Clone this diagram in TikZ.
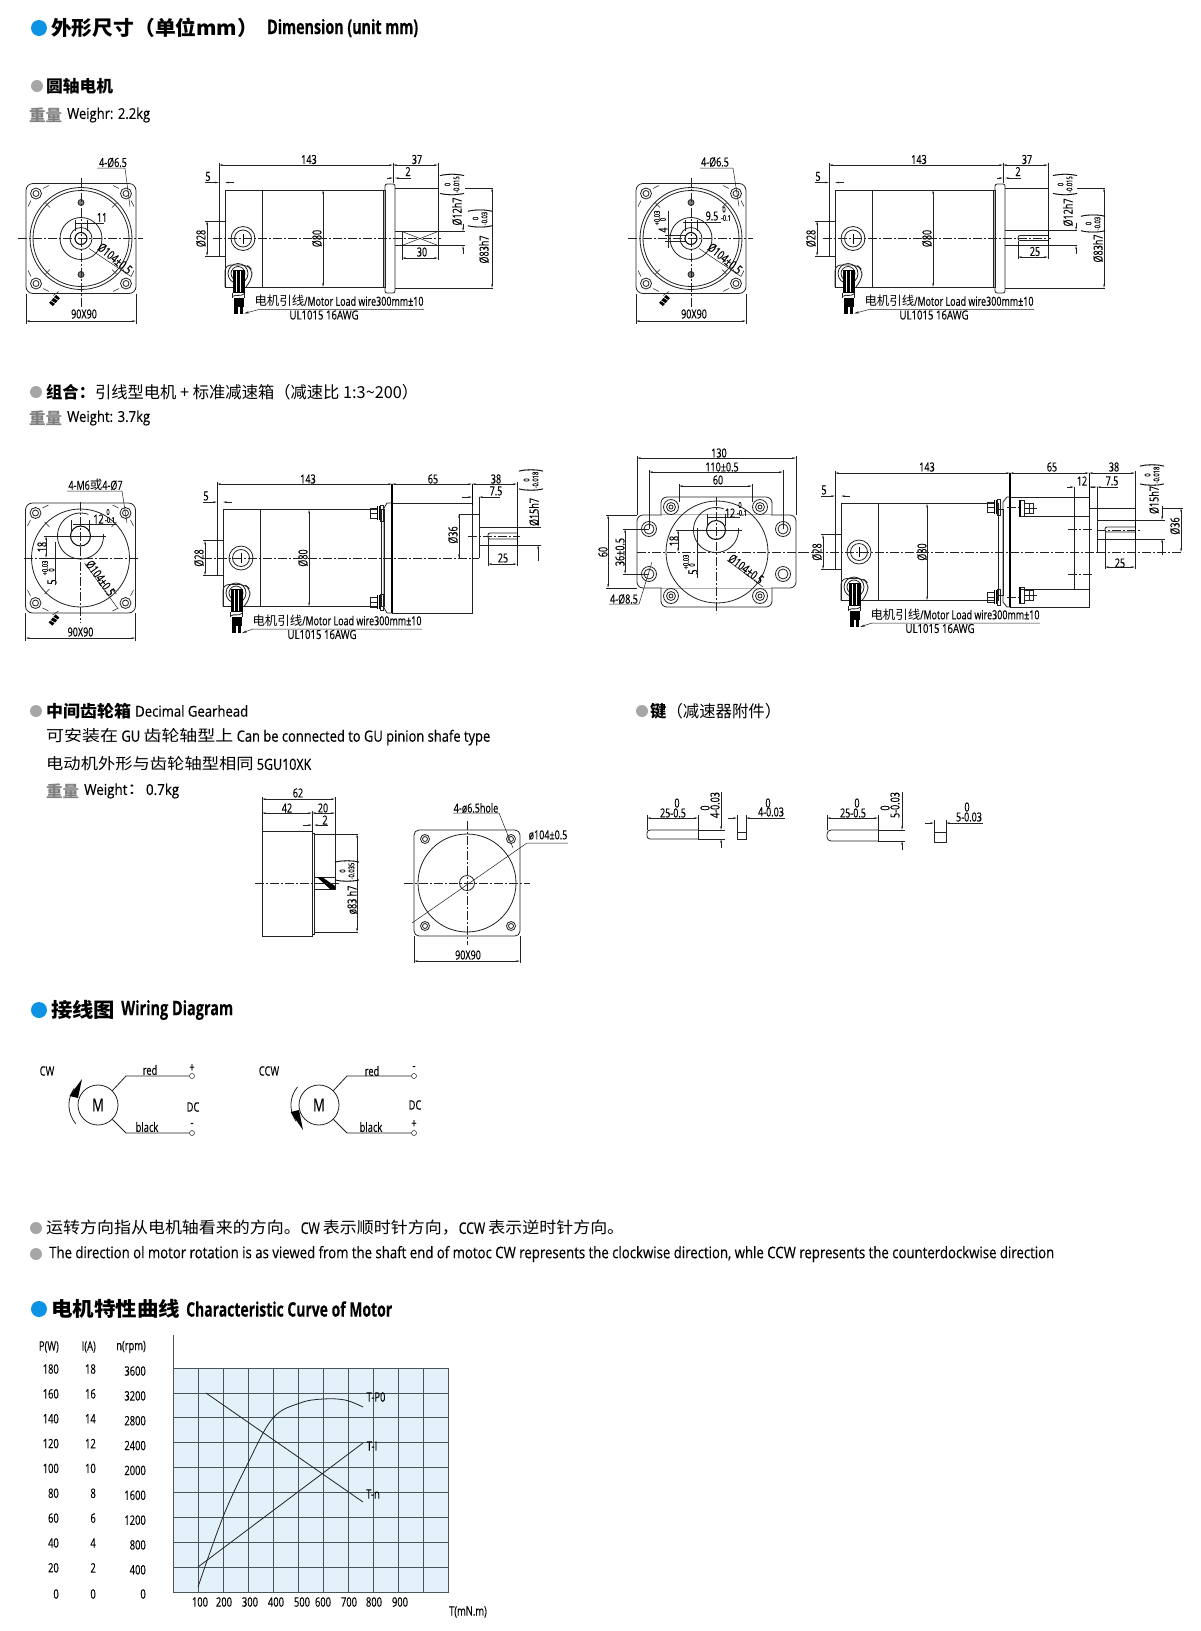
\documentclass[tikz,border=0pt]{standalone}
\usepackage{fontspec}
\usepackage{graphicx}
\usetikzlibrary{arrows.meta}
\setmainfont{Open Sans}[FakeStretch=0.72,FakeBold=0.25]
\newfontfamily\cjk{Noto Sans CJK SC}
\definecolor{inkc}{HTML}{222222}
\definecolor{bluedot}{HTML}{0C93E3}
\definecolor{greydot}{HTML}{A6A6A6}
\definecolor{chartbg}{HTML}{E2F1FA}
\definecolor{gridc}{HTML}{4A5358}
\newcounter{lbl}
\newcommand\lab[4][]{\stepcounter{lbl}\node[txt,#1,name=l\arabic{lbl}] at (#2,#3) {#4};}
\newcommand\fitw[2]{\resizebox{#1}{\height}{#2}}
\newcommand\fs[1]{\fontsize{#1}{#1}\selectfont}
\newcommand\hd[3]{\draw[dima] (#2,#1)--(#3,#1);}
\newcommand\vd[3]{\draw[dima] (#1,#2)--(#1,#3);}
\newcommand\ih[5]{\draw[dimb] (#2,#1)--(#3,#1);\draw[dimb] (#5,#1)--(#4,#1);}
\newcommand\iv[5]{\draw[dimb] (#1,#2)--(#1,#3);\draw[dimb] (#1,#5)--(#1,#4);}
\newcommand\arcat[6][ol]{\draw[#1] plot[domain=#5:#6,samples=50] ({#2+#4*cos(\x)},{#3+#4*sin(\x)});}
\newcommand\tolb[2]{$\vcenter{\hbox{\scalebox{1}[2.2]{(}}}\vcenter{\hbox{\fs{8}\shortstack{#1\\#2}}}\vcenter{\hbox{\scalebox{1}[2.2]{)}}}$}
\newcommand\hole[4]{\draw[ol] (#1,#2) circle[radius=#3pt];\draw[ol] (#1,#2) circle[radius=#4pt];}
\newcommand\dotb[2]{\fill[bluedot] (#1,#2) circle[radius=8pt];}
\newcommand\dotg[2]{\fill[greydot] (#1,#2) circle[radius=6pt];}
\newcommand\stub{%
  \draw[line width=5pt,black] (-30,66)--(-23,58);
  \draw[line width=.6pt,white] (-32,61)--(-24,66);\draw[line width=.6pt,white] (-29,58)--(-21,63);
  \draw[dl] (-28,57)--(-22,53);}
\newcommand\cornersegs{%
  \foreach \sx/\sy in {1/1,1/-1,-1/1,-1/-1}{
    \draw[dl] ({\sx*32},{\sy*53})--({\sx*38},{\sy*50});
    \draw[dl] ({\sx*53},{\sy*32})--({\sx*50},{\sy*38});
    \draw[dl] ({\sx*31},{\sy*31})--({\sx*36},{\sy*36});}}
% side view shared by all motors: origin is back plate / centre line
\newcommand\motorside[4]{%
  \draw[ol] (6,-48.5) rectangle (#1,48.5);
  \draw[ol] (0,-56)--(0,17.5)--(6,17.5);
  \draw[ol] (0,-17.5)--(6,-17.5);
  \draw[ol] (43,-48.5)--(43,48.5);
  \hole{24}{0}{12}{8.5}
  \draw[line width=.9pt] (24,-5)--(24,5);
  \draw[ol,rounded corners=6pt] (6,48.5)--(6,26.5)--(28,26.5)--(33,31)--(33,40)--(27,48.5);
  \hole{19}{35}{10}{7}
  \fill[black] (13.5,31) rectangle (25.5,54);
  \foreach \v in {17.5,21.5}{\draw[line width=.35pt,white] (\v,32)--(\v,53);}
  \draw[ol] (13.5,54)--(13.5,59);\draw[ol] (25.5,54)--(25.5,59);
  \draw[ol] (13.5,58)..controls (18,55) and (21,59)..(25.5,55);
  \fill[black] (14.5,59) rectangle (24.5,68);
  \fill[black] (15,68) rectangle (18.5,75);\fill[black] (20.5,68) rectangle (24,75);
  \ih{-56}{-14}{0}{6}{15}
  \lab{-11}{-62}{5}
  \draw[dl] (-14,-17.5)--(0,-17.5);\draw[dl] (-14,17.5)--(0,17.5);
  \vd{-12}{-17.5}{17.5}
  \lab[rv]{-18}{0}{Ø28}
  \vd{#2}{-48.5}{48.5}
  \lab[rv]{#3}{0}{Ø80}
  \draw[dl,-{Stealth[length=5pt,width=2.2pt]}] (205,71)--(#4,71)--(25,75);
  \lab{120}{62.5}{\fitw{169pt}{\fs{12.5}{\cjk 电机引线}/Motor Load wire300mm±10}}
  \lab{105}{76.5}{\fitw{69pt}{UL1015 16AWG}}}
\newcommand\motorfront{%
  \draw[ol,rounded corners=7pt] (-55,-55) rectangle (55,55);
  \cornersegs
  \draw[ol] (0,0) circle[radius=51pt];\draw[ol] (0,0) circle[radius=48pt];
  \foreach \sx/\sy in {1/1,1/-1,-1/1,-1/-1}{\hole{\sx*45}{\sy*45}{5.5}{3}}
  \foreach \sy in {-36,36}{\draw[ol,fill=gray] (0,\sy) circle[radius=3pt];}
  \draw[ol] (0,0) circle[radius=21pt];\draw[ol] (0,0) circle[radius=11pt];
  \draw[line width=1pt] (0,0) circle[radius=6pt];
  \draw[cl] (-63,0)--(62,0);\draw[cl] (0,-61)--(0,69);
  \stub
  \hd{82.5}{-55}{55}
  \draw[dl] (-55,55)--(-55,85);\draw[dl] (55,55)--(55,85);
  \lab{3}{75.5}{90X90}
  \draw[dl] (8,10)--(50,38);
  \lab[rotate=-40]{34}{20}{Ø104±0.5}}
\newcommand\bolthead[2]{%
  \begin{scope}[shift={(#1,#2)}]
    \draw[ol] (-5,-5) rectangle (2,5);\draw[dl] (-5,0)--(2,0);
    \fill[black] (2,-7) rectangle (5,7);
    \draw[line width=.4pt,white] (3.5,-7)--(3.5,7);
    \draw[ol] (5,-8) rectangle (8,8);
  \end{scope}}
\newcommand\tbrack[2]{%
  \begin{scope}[shift={(#1,#2)}]
    \draw[ol] (-8,-8) rectangle (-3,8);
    \fill[black] (-8,-8) rectangle (-6,8);
    \draw[ol] (-3,-5)--(6,-5)--(6,5)--(-3,5);
    \draw[dl] (-3,0)--(10,0);\draw[dl] (2,-5)--(2,5);
  \end{scope}}
\tikzset{
  txt/.style={inner sep=0pt,text=black,font=\fs{12.5}},
  chartt/.style={font=\fs{13}},
  smallt/.style={font=\fs{8}},
  rv/.style={rotate=90},
  west/.style={anchor=west},
  dl/.style={line width=.5pt,draw=inkc},
  ol/.style={line width=.8pt,draw=inkc},
  cl/.style={line width=.5pt,draw=inkc,dash pattern=on 9pt off 2pt on 2pt off 2pt},
  dima/.style={dl,{Stealth[length=4pt,width=1.6pt]}-{Stealth[length=4pt,width=1.6pt]}},
  dimb/.style={dl,-{Stealth[length=4pt,width=1.6pt]}},
  gridl/.style={line width=.7pt,draw=gridc},
  curve/.style={line width=.8pt,draw=inkc},
}
\begin{document}
\begin{tikzpicture}[x=1pt,y=-1pt]
\useasboundingbox[fill=white] (0,0) rectangle (1200,1631);
% ---------- headings ----------
\dotb{39}{28}
\lab[west]{51}{28}{\fitw{207pt}{\fs{20}\bfseries{\cjk 外形尺寸（单位mm）}}}
\lab[west]{267}{28}{\fitw{151pt}{\fs{20}\bfseries Dimension (unit mm)}}
\dotg{37}{86}
\lab[west]{46}{86}{\fitw{67pt}{\fs{16.5}\bfseries{\cjk 圆轴电机}}}
\lab[west]{29}{115}{\fitw{33pt}{\fs{16}\color{gray}\bfseries{\cjk 重量}}}
\lab[west]{67}{115}{\fitw{83pt}{\fs{15}Weighr: 2.2kg}}
\dotg{36}{392}
\lab[west]{46}{392}{\fitw{372pt}{\fs{16.5}{\cjk\bfseries 组合：}{\cjk 引线型电机 + 标准减速箱（减速比 1:3\string~200）}}}
\lab[west]{29}{418}{\fitw{33pt}{\fs{16}\color{gray}\bfseries{\cjk 重量}}}
\lab[west]{67}{418}{\fitw{83pt}{\fs{15}Weight: 3.7kg}}
\dotg{36}{711}
\lab[west]{46}{711}{\fitw{85pt}{\fs{16.5}\bfseries{\cjk 中间齿轮箱}}}
\lab[west]{135}{711}{\fitw{113pt}{\fs{15}Decimal Gearhead}}
\lab[west]{46}{737}{\fitw{444pt}{\fs{15.5}{\cjk 可安装在} GU {\cjk 齿轮轴型上} Can be connected to GU pinion shafe type}}
\lab[west]{46}{764}{\fitw{265pt}{\fs{15.5}{\cjk 电动机外形与齿轮轴型相同} 5GU10XK}}
\lab[west]{46}{791}{\fitw{33pt}{\fs{16}\color{gray}\bfseries{\cjk 重量}}}
\lab[west]{84}{791}{\fitw{95pt}{\fs{15}Weight{\cjk ：}0.7kg}}
\dotg{642}{711}
\lab[west]{650}{711}{\fitw{131pt}{\fs{16.5}{\cjk\bfseries 键}{\cjk （减速器附件）}}}
\dotb{39}{1010}
\lab[west]{51}{1010}{\fitw{64pt}{\fs{20}\bfseries{\cjk 接线图}}}
\lab[west]{121}{1010}{\fitw{112pt}{\fs{20}\bfseries Wiring Diagram}}
\dotg{36}{1228}
\lab[west]{46}{1228}{\fitw{578pt}{\fs{16}{\cjk 运转方向指从电机轴看来的方向。}CW {\cjk 表示顺时针方向，}CCW {\cjk 表示逆时针方向。}}}
\dotg{36}{1254}
\lab[west]{49}{1254}{\fitw{1005pt}{\fs{16}The direction ol motor rotation is as viewed from the shaft end of motoc CW represents the clockwise direction, whle CCW represents the counterdockwise direction}}
\dotb{39}{1309}
\lab[west]{51}{1309}{\fitw{129pt}{\fs{20}\bfseries{\cjk 电机特性曲线}}}
\lab[west]{186}{1309}{\fitw{206pt}{\fs{20}\bfseries Characteristic Curve of Motor}}
% ---------- motor 1 ----------
\begin{scope}[shift={(81,238.5)}]
  \motorfront
  \lab{32}{-76}{4-Ø6.5}
  \draw[dl] (16,-70.5)--(44,-70.5)--(49,-32);
  \lab{21}{-21}{11}
  \draw[dl] (-6,-15.5)--(23,-15.5);
  \draw[dl] (-6,-19)--(-6,-8);\draw[dl] (6,-19)--(6,-8);
\end{scope}
\begin{scope}[shift={(219,238.5)}]
  \motorside{164}{104}{98}{40}
  \draw[ol] (164,-48.5)--(166,-48.5)--(166,48.5)--(164,48.5);
  \draw[ol,rounded corners=2pt] (166,-54.5) rectangle (176,54.5);
  \draw[ol] (176,-50.5)--(219,-50.5);
  \draw[dl] (246,-50.5)--(274,-50.5);
  \draw[dl] (176,49.5)--(274,49.5);
  \draw[ol] (176,-7)--(219,-7)--(219,7)--(176,7);
  \draw[dl] (183,-7)--(183,7);\draw[dl] (183,-7)--(219,7);\draw[dl] (183,7)--(219,-7);
  \draw[cl] (-6,0)--(222,0);
  \hd{-73.5}{0}{174}\hd{-73.5}{174}{219}
  \draw[dl] (0,-76)--(0,-56);\draw[dl] (174,-76)--(174,-56);\draw[dl] (219,-76)--(219,-7);
  \lab{90}{-79}{143}\lab{198}{-79}{37}
  \ih{-60.5}{168}{174}{176}{192}
  \lab{189}{-67}{2}
  \vd{273}{-50.5}{49.5}
  \lab[rv]{265}{11}{Ø83h7}
  \lab[rv]{261}{-20}{\tolb{0}{-0.03}}
  \draw[dl] (219,-7)--(246,-7);\draw[dl] (219,7)--(246,7);
  \iv{244}{-15}{-7}{7}{15}
  \lab[rv]{238}{-27}{Ø12h7}
  \lab[rv]{233}{-54}{\tolb{0}{-0.015}}
  \hd{19.5}{183}{219}
  \draw[dl] (183,7)--(183,21);\draw[dl] (219,7)--(219,21);
  \lab{203}{13.5}{30}
\end{scope}
% ---------- motor 2 ----------
\begin{scope}[shift={(691,238.5)}]
  \motorfront
  \lab{24}{-76.5}{4-Ø6.5}
  \draw[dl] (9,-70.5)--(42,-70.5)--(48,-32);
  \lab{21}{-22.5}{9.5}
  \lab[smallt]{33}{-29}{0}\lab[smallt]{35}{-20.5}{-0.1}
  \draw[dl] (-8,-16)--(30,-16);
  \draw[dl] (-6,-19)--(-6,-8);\draw[dl] (6,-19)--(6,-8);
  \lab[rv]{-28}{-8.5}{4}
  \lab[rv,smallt]{-34}{-20.5}{+0.03}\lab[rv,smallt]{-28}{-19}{0}
  \draw[dl] (-23,-28)--(-23,9);
  \draw[dl] (-26,-3)--(-5,-3);\draw[dl] (-26,3)--(-5,3);
\end{scope}
\begin{scope}[shift={(829,238.5)}]
  \motorside{164}{104}{98}{40}
  \draw[ol] (164,-48.5)--(166,-48.5)--(166,48.5)--(164,48.5);
  \draw[ol,rounded corners=2pt] (166,-54.5) rectangle (176,54.5);
  \draw[ol] (176,-50.5)--(219,-50.5);
  \draw[dl] (248,-50.5)--(276,-50.5);
  \draw[dl] (176,49.5)--(276,49.5);
  \draw[ol] (176,-8)--(219,-8)--(219,7)--(176,7);
  \draw[ol,rounded corners=2pt] (219,-3)--(189,-3)--(189,2)--(219,2);
  \draw[line width=1pt] (219,-8)--(219,7);
  \draw[cl] (-6,0)--(222,0);
  \hd{-73.5}{0}{174}\hd{-73.5}{174}{219}
  \draw[dl] (0,-76)--(0,-56);\draw[dl] (174,-76)--(174,-56);\draw[dl] (219,-76)--(219,-8);
  \lab{90}{-79}{143}\lab{198}{-79}{37}
  \ih{-60.5}{168}{174}{176}{192}
  \lab{189}{-67}{2}
  \vd{275}{-50.5}{49.5}
  \lab[rv]{269}{10}{Ø83h7}
  \lab[rv]{264}{-15}{\tolb{0}{-0.03}}
  \draw[dl] (219,-8)--(248,-8);\draw[dl] (219,7)--(248,7);
  \iv{247}{-16}{-8}{7}{15}
  \lab[rv]{239}{-26}{Ø12h7}
  \lab[rv]{236}{-54}{\tolb{0}{-0.015}}
  \hd{18.5}{189}{219}
  \draw[dl] (189,2)--(189,20);\draw[dl] (219,7)--(219,20);
  \lab{206}{13}{25}
\end{scope}
% ---------- motor 3 ----------
\begin{scope}[shift={(80.5,558)}]
  \draw[ol,rounded corners=7pt] (-55,-55) rectangle (55,55);
  \cornersegs
  \draw[ol] (0,0) circle[radius=49pt];
  \foreach \sx/\sy in {1/1,1/-1,-1/1,-1/-1}{\hole{\sx*45}{\sy*45}{5.5}{3}}
  \arcat{0}{-22}{23}{-5}{290}
  \draw[line width=1pt] (0,-22) circle[radius=10pt];
  \draw[cl] (-57,0)--(57,0);\draw[cl] (0,-56)--(0,65);
  \draw[dl] (-12,-22)--(25,-22);
  \stub
  \hd{80}{-55}{55}
  \draw[dl] (-55,55)--(-55,83);\draw[dl] (55,55)--(55,83);
  \lab{0}{74}{90X90}
  \lab{15}{-73}{4-M6{\cjk 或}4-Ø7}
  \draw[dl] (-13.5,-67)--(41.5,-67)--(46.5,-35);
  \lab{18}{-39}{12}
  \lab[smallt]{27.5}{-46}{0}\lab[smallt]{29.5}{-38}{-0.1}
  \draw[dl] (-7.5,-34)--(36.5,-34);
  \draw[dl] (-9,-38)--(-9,-26);\draw[dl] (9,-38)--(9,-26);
  \lab[rv]{-38.5}{-11}{18}
  \vd{-34.5}{-22}{0}
  \draw[dl] (-37,-22)--(-10,-22);\draw[dl] (-37,0)--(0,0);
  \lab[rv]{-28.5}{24}{5}
  \lab[rv,smallt]{-35.5}{10}{+0.03}\lab[rv,smallt]{-29}{12}{0}
  \draw[dl] (-25.5,-16)--(-25.5,27);
  \draw[dl] (4,5)--(37,50);
  \lab[rotate=-54]{20}{20}{Ø104±0.5}
\end{scope}
\begin{scope}[shift={(217,558)}]
  \motorside{164}{92}{86}{36}
  \draw[ol] (164,-48.5)--(167,-48.5)--(167,48.5)--(164,48.5);
  \draw[ol] (175,-55)--(170,-55)--(167,-50)--(167,50)--(170,55)--(175,55);
  \draw[ol] (175,-55)--(255,-55)--(255,55)--(175,55);
  \draw[line width=1.3pt] (175,-74)--(175,55);
  \draw[line width=1pt] (255,-74)--(255,-53);
  \draw[ol] (242,-44)--(262,-44)--(262,0);
  \draw[dl] (242,-44)--(242,0);
  \draw[ol] (262,-31)--(300,-31);\draw[ol] (262,-13)--(300,-13);
  \draw[line width=1pt] (300,-31)--(300,-13);
  \draw[ol,rounded corners=2pt] (300,-25)--(271,-25)--(271,-19)--(300,-19);
  \bolthead{158}{-45}\bolthead{158}{44}
  \draw[cl] (-14,0)--(262,0);
  \draw[cl] (251,-22)--(303,-22);
  \hd{-74}{0}{175}\hd{-74}{175}{255}\hd{-74}{255}{300}
  \draw[dl] (0,-76)--(0,-56);\draw[dl] (300,-76)--(300,-31);
  \lab{91}{-79}{143}\lab{216}{-79}{65}\lab{279}{-79}{38}
  \ih{-61}{245}{255}{262}{283}
  \draw[dl] (262,-61)--(262,-44);
  \lab{279}{-67}{7.5}
  \vd{242}{-44}{0}
  \lab[rv]{236}{-23}{Ø36}
  \hd{6}{271}{300}
  \draw[dl] (271,-19)--(271,8);\draw[dl] (300,-13)--(300,8);
  \lab{286}{0}{25}
  \draw[dl] (300,-31)--(324,-31);\draw[dl] (300,-13)--(324,-13);
  \iv{321}{-45}{-31}{-13}{3}
  \lab[rv]{317}{-46}{Ø15h7}
  \lab[rv]{314}{-78}{\tolb{0}{-0.018}}
\end{scope}
% ---------- motor 4 ----------
\begin{scope}[shift={(716,552)}]
  \draw[ol,rounded corners=6pt,fill=white] (-55,-55) rectangle (56,55);
  \draw[ol,rounded corners=6pt,fill=white] (-79,-37) rectangle (80,36);
  \draw[white,line width=1.2pt] (-54,-36.5)--(55,-36.5);
  \draw[white,line width=1.2pt] (-54,35.5)--(55,35.5);
  \draw[ol] (1,0) circle[radius=51pt];
  \arcat{0}{-22}{22.5}{-5}{290}
  \draw[line width=1pt] (0,-22) circle[radius=9.5pt];
  \foreach \sx in {-67,67}{\foreach \sy in {-23,22}{\hole{\sx}{\sy}{7.5}{5}}}
  \foreach \sx in {-45,44}{\foreach \sy in {-45,44}{\hole{\sx}{\sy}{7.5}{4.5}\draw[ol] (\sx,\sy) circle[radius=2pt];}}
  \draw[cl] (-79,0)--(88,0);\draw[cl] (0,-55)--(0,61);
  \draw[dl] (-40,-22)--(26,-22);
  \hd{-94}{-79}{80}\hd{-80}{-67}{67}\hd{-66}{-37}{36}
  \draw[dl] (-79,-96)--(-79,-37);\draw[dl] (80,-96)--(80,-37);
  \draw[dl] (-67,-82)--(-67,-23);\draw[dl] (67,-82)--(67,-23);
  \draw[dl] (-37,-68)--(-37,-50);\draw[dl] (36,-68)--(36,-50);
  \lab{3}{-99}{130}\lab{6}{-85}{110±0.5}\lab{2}{-72}{60}
  \vd{-108}{-37}{36}
  \draw[dl] (-110,-37)--(-79,-37);\draw[dl] (-110,36)--(-79,36);
  \lab[rv]{-113}{0}{60}
  \vd{-91}{-23}{22}
  \draw[dl] (-93,-23)--(-67,-23);\draw[dl] (-93,22)--(-67,22);
  \lab[rv]{-96}{0}{36±0.5}
  \lab{-92}{47}{4-Ø8.5}
  \draw[dl] (-107,52)--(-77,52)--(-64,10);
  \lab[rv]{-42}{-11}{18}
  \vd{-38}{-22}{0}
  \lab[rv]{-23}{20}{5}
  \lab[rv,smallt]{-30}{10}{+0.03}\lab[rv,smallt]{-24}{13}{0}
  \draw[dl] (-19,-24)--(-19,26);
  \lab[rotate=-37]{30}{17}{Ø104±0.5}
  \draw[dl] (11,8)--(47,35);
  \lab{14}{-39}{12}\lab[smallt]{24}{-47}{0}\lab[smallt]{26}{-39}{-0.1}
  \draw[dl] (-9,-35)--(24,-35);
  \draw[dl] (-9,-38)--(-9,-26);\draw[dl] (9,-38)--(9,-26);
\end{scope}
\begin{scope}[shift={(835,552)}]
  \motorside{163}{92}{87}{37}
  \draw[ol] (163,-43)--(168,-43)--(168,43)--(163,43);
  \draw[ol] (175,-55)--(172,-55)--(168,-50)--(168,50)--(172,55)--(175,55);
  \draw[ol] (175,-55)--(254,-55)--(254,55)--(175,55);
  \draw[line width=1.3pt] (175,-79)--(175,55);
  \draw[line width=1pt] (254,-79)--(254,-44);
  \draw[ol] (254,-44)--(262,-44)--(262,0);
  \draw[dl] (262,-44)--(300,-44);
  \draw[ol] (262,-32)--(300,-32);\draw[ol] (262,-13)--(300,-13);
  \draw[line width=1pt] (300,-32)--(300,-13);
  \draw[ol,rounded corners=2pt] (300,-25)--(270,-25)--(270,-20)--(300,-20);
  \draw[ol] (184,-36)--(254,-36);\draw[ol] (184,37)--(254,37);
  \draw[ol] (239,-65)--(239,37);
  \tbrack{192}{-44}\tbrack{192}{43}
  \bolthead{157}{-45}\bolthead{157}{45}
  \draw[cl] (-35,0)--(262,0);
  \draw[cl] (233,-23)--(257,-23);\draw[cl] (233,22)--(257,22);
  \draw[cl] (172,-45)--(184,-45);\draw[cl] (172,45)--(184,45);
  \draw[cl] (262,-22)--(305,-22);
  \hd{-79}{0}{175}\hd{-79}{175}{254}\hd{-79}{254}{300}
  \draw[dl] (0,-81)--(0,-56);\draw[dl] (300,-81)--(300,-32);
  \lab{92}{-85}{143}\lab{217}{-85}{65}\lab{279}{-85}{38}
  \ih{-65}{232}{239}{254}{258}
  \lab{247}{-71}{12}
  \ih{-65}{258}{262}{262}{283}
  \draw[dl] (262,-65)--(262,-44);
  \lab{277}{-71}{7.5}
  \draw[dl] (300,-32)--(330,-32);\draw[dl] (300,-13)--(330,-13);
  \iv{327}{-46}{-32}{-13}{3}
  \lab[rv]{319}{-52}{Ø15h7}
  \lab[rv]{317}{-77}{\tolb{0}{-0.018}}
  \draw[dl] (328,-44)--(348,-44);\draw[cl] (262,0)--(348,0);
  \vd{346}{-44}{0}
  \lab[rv]{340}{-26}{Ø36}
  \hd{15}{270}{300}
  \draw[dl] (270,-20)--(270,17);\draw[dl] (300,-13)--(300,17);
  \lab{285}{11}{25}
\end{scope}
% ---------- gearhead ----------
\draw[ol] (262,831) rectangle (312,936);
\draw[ol] (312,833) rectangle (314,934);
\draw[ol] (314,834)--(335,834);\draw[dl] (335,834)--(358,834);
\draw[ol] (314,932)--(358,932);
\draw[ol] (314,877)--(335,877)--(335,889)--(314,889);
\fill[black] (317,877)--(322,877)--(335,886)--(335,889)--(330,889)--cycle;
\draw[cl] (255,883)--(340,883);
\hd{799}{262}{335}\hd{813}{262}{312}\hd{813}{312}{335}
\draw[dl] (262,797)--(262,831);\draw[dl] (335,797)--(335,877);\draw[dl] (312,811)--(312,831);
\lab{298}{793}{62}\lab{287}{808}{42}\lab{323}{808}{20}
\ih{825}{303}{312}{314}{328}
\lab{325}{820}{2}
\vd{357}{834}{932}
\lab[rv]{352}{900}{ø83 h7}
\lab[rv]{347}{871}{\tolb{0}{-0.035}}
\draw[ol,rounded corners=5pt] (414,830) rectangle (520,936);
\foreach \sx/\sy in {425/839,511/839,425/926,511/926}{\hole{\sx}{\sy}{4.5}{2.5}}
\draw[ol] (467,883) circle[radius=49pt];
\draw[ol] (467,883) circle[radius=7.5pt];
\draw[cl] (404,883)--(530,883);\draw[cl] (467,821)--(467,945);
\draw[dl] (412,923)--(527,843)--(568,843);
\lab{548}{835}{ø104±0.5}
\lab{476}{808}{4-ø6.5hole}
\draw[dl] (453,813)--(499,813)--(513,848);
\hd{961}{414}{520}
\draw[dl] (414,936)--(414,963);\draw[dl] (520,936)--(520,963);
\lab{468}{955}{90X90}
% ---------- keys ----------
\draw[ol,rounded corners=3pt] (698,830)--(647,830)--(647,839)--(698,839);
\draw[ol] (698,830)--(698,839);
\hd{818}{647}{698}
\draw[dl] (647,815)--(647,830);\draw[dl] (698,815)--(698,830);
\lab{673}{813}{25-0.5}\lab{677}{803}{0}
\draw[dl] (698,830)--(725,830);\draw[dl] (698,839)--(725,839);
\iv{721}{792}{830}{839}{848}
\lab[rv]{715}{805}{4-0.03}\lab[rv]{705}{808}{0}
\draw[ol] (737,832) rectangle (746,839);
\draw[dl] (737,815)--(737,832);\draw[dl] (746,815)--(746,832);
\ih{818}{728}{737}{746}{785}
\lab{771}{812}{4-0.03}\lab{768}{803}{0}
\draw[ol,rounded corners=4pt] (878,830)--(827,830)--(827,841)--(878,841);
\draw[ol] (878,830)--(878,841);
\hd{818}{827}{878}
\draw[dl] (827,815)--(827,830);\draw[dl] (878,815)--(878,830);
\lab{853}{813}{25-0.5}\lab{857}{803}{0}
\draw[dl] (878,830)--(905,830);\draw[dl] (878,841)--(905,841);
\iv{902}{792}{830}{841}{850}
\lab[rv]{895}{805}{5-0.03}\lab[rv]{885}{808}{0}
\draw[ol] (934,832) rectangle (946,842);
\draw[dl] (934,820)--(934,832);\draw[dl] (946,820)--(946,832);
\ih{823}{925}{934}{946}{983}
\lab{969}{817}{5-0.03}\lab{967}{807}{0}
% ---------- wiring ----------
\lab[chartt]{47}{1071}{CW}
\node[ol,draw,circle,minimum size=40pt,inner sep=0pt,font=\fs{18}] (m1) at (98,1105) {M};
\coordinate (r1) at (126,1076);\coordinate (b1) at (126,1133);
\node[dl,draw,circle,minimum size=5pt,inner sep=0pt] (tr1) at (192,1076) {};
\node[dl,draw,circle,minimum size=5pt,inner sep=0pt] (tb1) at (192,1133) {};
\draw[ol] (m1.45)--(r1)--(tr1);\draw[ol] (m1.-45)--(b1)--(tb1);
\lab[chartt]{192}{1068}{+}\lab[chartt]{150}{1070}{red}\lab[chartt]{193}{1107}{DC}\lab[chartt]{192}{1125}{-}\lab[chartt]{147}{1127}{black}
\arcat{98}{1105}{29}{140}{215}
\fill[black] (82,1079)--(69.5,1096)--(78,1098)--cycle;
\lab[chartt]{269}{1071}{CCW}
\node[ol,draw,circle,minimum size=40pt,inner sep=0pt,font=\fs{18}] (m2) at (319,1105) {M};
\coordinate (r2) at (347,1076);\coordinate (b2) at (347,1133);
\node[dl,draw,circle,minimum size=5pt,inner sep=0pt] (tr2) at (414,1076) {};
\node[dl,draw,circle,minimum size=5pt,inner sep=0pt] (tb2) at (414,1133) {};
\draw[ol] (m2.45)--(r2)--(tr2);\draw[ol] (m2.-45)--(b2)--(tb2);
\lab[chartt]{414}{1068}{-}\lab[chartt]{372}{1071}{red}\lab[chartt]{415}{1105}{DC}\lab[chartt]{414}{1124}{+}\lab[chartt]{371}{1127}{black}
\arcat{319}{1105}{28}{145}{220}
\fill[black] (303,1130)--(290.5,1112)--(299,1110)--cycle;
% ---------- chart ----------
\fill[chartbg] (173,1368) rectangle (448,1592);
\foreach \i in {1,...,10}{\draw[gridl] ({173+25*\i},1368)--({173+25*\i},1592);}
\foreach \i in {1,...,8}{\draw[gridl] (173,{1368+24.9*\i})--(448,{1368+24.9*\i});}
\draw[gridl] (173,1335)--(173,1592)--(448,1592)--(448,1368)--(173,1368);
\draw[curve] (206,1393)--(363,1502);
\draw[curve] (198,1567)--(363,1443);
\draw[curve] plot[smooth,tension=.6] coordinates {(198,1587) (223,1517) (248,1463) (273,1418) (300,1403) (323,1399) (345,1400) (363,1407)};
\lab[chartt]{376}{1397}{T-P0}\lab[chartt]{372}{1446}{T-I}\lab[chartt]{373}{1494}{T-n}
\lab[chartt,anchor=east]{59}{1347}{P(W)}\lab[chartt,anchor=east]{96}{1347}{I(A)}\lab[chartt,anchor=east]{146}{1347}{n(rpm)}
\foreach \p/\c/\n/\yy in {180/18/3600/0,160/16/3200/1,140/14/2800/2,120/12/2400/3,100/10/2000/4,80/8/1600/5,60/6/1200/6,40/4/800/7,20/2/400/8}{
  \lab[chartt,anchor=east]{59}{1369+24.85*\yy}{\p}
  \lab[chartt,anchor=east]{96}{1369+24.85*\yy}{\c}
  \lab[chartt,anchor=east]{146}{1371+24.85*\yy}{\n}}
\lab[chartt,anchor=east]{59}{1594}{0}\lab[chartt,anchor=east]{96}{1594}{0}\lab[chartt,anchor=east]{146}{1594}{0}
\foreach \v/\xx in {100/200,200/224,300/250,400/276,500/302,600/323,700/349,800/374,900/400}{\lab[chartt]{\xx}{1602}{\v}}
\lab[chartt]{468}{1612}{T(mN.m)}
\end{tikzpicture}
\end{document}
